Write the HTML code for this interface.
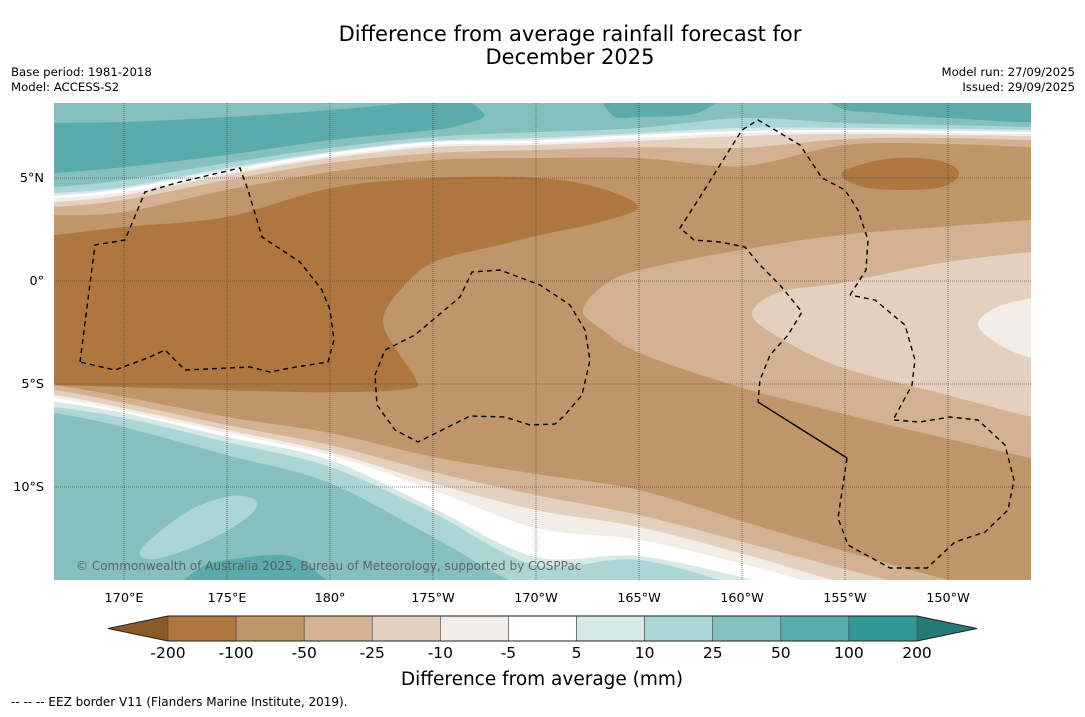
<!DOCTYPE html>
<html><head><meta charset="utf-8"><style>
html,body{margin:0;padding:0;background:#fff;}
body{width:1085px;height:713px;overflow:hidden;font-family:"DejaVu Sans","Liberation Sans",sans-serif;}
svg text{font-family:"DejaVu Sans","Liberation Sans",sans-serif;}
</style></head><body>
<svg id="chart" width="1085" height="713" viewBox="0 0 1085 713" xmlns="http://www.w3.org/2000/svg">
<text x="570" y="41" font-size="21" text-anchor="middle">Difference from average rainfall forecast for</text>
<text x="570" y="64" font-size="21" text-anchor="middle">December 2025</text>
<text x="11" y="76" font-size="11.7">Base period: 1981-2018</text>
<text x="11" y="91" font-size="11.7">Model: ACCESS-S2</text>
<text x="1075" y="76" font-size="11.7" text-anchor="end">Model run: 27/09/2025</text>
<text x="1075" y="91" font-size="11.7" text-anchor="end">Issued: 29/09/2025</text>
<defs><clipPath id="mapclip"><rect x="54" y="103" width="977" height="477"/></clipPath></defs>
<g id="map" clip-path="url(#mapclip)"></g>
<g id="eez" clip-path="url(#mapclip)" fill="none" stroke="#000" stroke-width="1.4">
<path stroke-dasharray="5,4" d="M80,362 L95,245 L125,240 L145,192 L180,182 L240,168 L248,190 L262,237 L300,262 L322,290 L330,310 L334,340 L328,362 L290,368 L270,372 L250,367 L185,370 L165,350 L150,357 L115,370 Z"/>
<path stroke-dasharray="5,4" d="M375,375 L385,350 L415,335 L460,297 L472,272 L500,270 L540,285 L570,305 L585,330 L590,360 L582,395 L565,415 L555,424 L530,425 L505,417 L470,416 L418,442 L395,430 L377,405 Z"/>
<path stroke-dasharray="5,4" d="M850,295 L866,270 L868,240 L858,210 L845,190 L822,178 L800,145 L775,130 L758,120 L742,130 L720,165 L700,197 L680,228 L694,240 L720,242 L745,247 L760,265 L780,285 L802,312 L788,335 L770,355 L760,380 L758,402"/>
<path d="M758,402 L847,458"/>
<path stroke-dasharray="5,4" d="M847,458 L838,518 L848,545 L890,568 L927,568 L955,542 L985,532 L1008,510 L1014,480 L1005,445 L978,420 L950,417 L920,422 L893,420 L912,385 L915,360 L905,325 L875,300 L850,295"/>
</g>
<g id="grid"></g>
<text x="76" y="570" font-size="12" fill="#555" fill-opacity="0.85">© Commonwealth of Australia 2025, Bureau of Meteorology, supported by COSPPac</text>
<g id="ticks"></g>
<g id="cbar"></g>
<text x="542" y="685" font-size="18.5" text-anchor="middle">Difference from average (mm)</text>
<text x="11" y="706" font-size="12">--  --  -- EEZ border V11 (Flanders Marine Institute, 2019).</text>
</svg>
<script>
// ---- data (lon in degrees east 0-360, lat in degrees) ----
const northLons = [166.6,170,175,180,185,190,195,200,205,210,214];
const nm50 = [3.20,3.35,4.42,5.29,5.87,5.97,5.97,5.58,6.60,6.65,6.50];
const nm25 = [3.59,3.93,4.90,5.73,6.21,6.36,6.50,6.46,6.89,6.94,6.84];
const nm10 = [3.83,4.17,5.15,5.97,6.50,6.60,6.80,7.04,7.14,7.09,7.04];
const nm5  = [4.03,4.32,5.24,6.07,6.60,6.70,6.94,7.18,7.23,7.18,7.14];
const n5   = [4.13,4.47,5.39,6.21,6.75,6.84,7.09,7.28,7.33,7.28,7.23];
const n10  = [4.27,4.56,5.49,6.26,6.80,6.94,7.18,7.43,7.43,7.38,7.33];
const n25  = [4.56,4.90,5.73,6.46,6.99,7.23,7.43,7.91,7.67,7.57,7.48];
const southLons = [166.6,170,175,180,185,190,195,200.6,204.8,210,214];
const sm50 = [-5.05,-5.63,-6.60,-7.38,-8.54,-9.37,-10.15,-11.84,-13.06,-14.51,-15.49];
const sm25 = [-5.29,-5.92,-6.99,-7.96,-9.27,-10.39,-11.36,-12.82,-13.93,-15.24,-15.97];
const sm10 = [-5.53,-6.17,-7.23,-8.30,-9.81,-11.12,-11.94,-13.40,-14.61,-15.73,-16.46];
const sm5  = [-5.68,-6.31,-7.38,-8.45,-10.15,-11.99,-12.57,-13.88,-15.0,-15.97,-16.7];
const s5   = [-5.87,-6.41,-7.57,-8.69,-11.02,-13.40,-13.35,-14.51,-15.49,-16.46,-16.94];
const s10  = [-6.12,-6.65,-7.82,-9.03,-11.26,-13.79,-13.54,-15.0,-15.97,-16.94,-17.4];
const s25  = [-6.41,-7.09,-8.45,-9.81,-12.43,-15.0,-15.0,-15.49,-16.46,-17.43,-17.9];
const darkCore1 = [[166.6,2.23],[170,2.62],[175,3.11],[180.05,4.51],[185.05,5.0],[190.05,5.0],[193.11,4.51],[194.95,3.59],[193.11,2.86],[190.19,2.23],[188.25,1.75],[185.05,0.92],[183.4,-0.44],[182.57,-1.89],[183.16,-3.25],[184.13,-4.71],[183.88,-5.24],[180.05,-5.4],[175.05,-5.3],[170,-5.15],[166.6,-5.05],[165,-5.0],[165,2.2]];
const darkCore2 = [[204.83,5.24],[207.0,5.92],[209.44,5.87],[210.55,5.24],[209.44,4.51],[206.18,4.51]];
const tongue25 = [[192.28,-1.41],[193.3,-0.2],[195.05,0.53],[199.9,1.5],[204.76,2.23],[209.61,2.62],[214.03,2.96],[215,3.0],[215,-8.7],[214.03,-8.59],[209.61,-7.57],[204.76,-6.41],[199.9,-5.15],[195.05,-3.5],[193.11,-2.28]];
const tongue10 = [[200.49,-1.55],[201.84,-0.53],[204.76,-0.1],[209.61,0.87],[214.03,1.41],[215,1.45],[215,-6.7],[214.03,-6.6],[209.61,-5.44],[204.76,-4.17],[201.6,-2.62]];
const tongue5 = [[211.46,-2.14],[212.28,-1.31],[214.03,-0.83],[215,-0.8],[215,-3.8],[214.03,-3.74],[212.52,-3.11]];
const wet50West = [[165,7.6],[166.6,7.67],[170,7.72],[175,7.96],[180.05,8.3],[184.37,8.79],[184.4,9.5],[186.8,9.5],[186.8,8.79],[187.48,8.01],[186.31,7.57],[185.05,7.33],[180.05,6.84],[175,6.12],[170,5.53],[166.6,5.24],[165,5.2]];
const wet50Mid = [[193.5,9.5],[198.93,9.5],[197.96,8.2],[195.05,7.96],[193.69,8.06]];
const wet50East = [[204.08,9.5],[215,9.5],[215,7.82],[210.1,7.91],[206.7,8.16],[204.76,8.4]];
const wetSouthBlob = [[170.78,-13.3],[171.26,-12.57],[173.2,-11.12],[175.15,-10.44],[176.36,-10.63],[176.12,-11.36],[174.17,-12.57],[171.75,-13.45]];
const wetSouthPatch = [[173.11,-15.2],[173.69,-13.93],[175.63,-13.45],[178.06,-13.35],[179.51,-14.27],[180.0,-15.2]];
const lonTicks = [170,175,180,185,190,195,200,205,210];
const lonTickLabels = ["170°E","175°E","180°","175°W","170°W","165°W","160°W","155°W","150°W"];
const latTicks = [5,0,-5,-10];
const latTickLabels = ["5°N","0°","5°S","10°S"];
const cbarLevels = ["-200","-100","-50","-25","-10","-5","5","10","25","50","100","200"];
const cbarColors = ["#ad773f","#c0956a","#d3b293","#e3d0bf","#f2ede6","#ffffff","#d5e9e7","#acd6d5","#85c0be","#5aabab","#339996"];
const cbarUnder = "#8c5a2a", cbarOver = "#257a76";

// ---- axis functions ----
const X = lon => 124 + (lon - 170) * 20.6;
const Y = lat => 281 - lat * 20.6;
const NS = "http://www.w3.org/2000/svg";
const map = document.getElementById('map');

function smooth(pts){
  let d = "";
  for (let i = 0; i < pts.length - 1; i++) {
    const p0 = pts[Math.max(i-1,0)], p1 = pts[i], p2 = pts[i+1], p3 = pts[Math.min(i+2,pts.length-1)];
    const c1 = [p1[0]+(p2[0]-p0[0])/6, p1[1]+(p2[1]-p0[1])/6];
    const c2 = [p2[0]-(p3[0]-p1[0])/6, p2[1]-(p3[1]-p1[1])/6];
    d += ` C${c1[0].toFixed(1)},${c1[1].toFixed(1)} ${c2[0].toFixed(1)},${c2[1].toFixed(1)} ${p2[0].toFixed(1)},${p2[1].toFixed(1)}`;
  }
  return d;
}
function closedSmooth(ll){
  const pts = ll.map(p => [X(p[0]), Y(p[1])]);
  const n = pts.length; let d = `M${pts[0][0].toFixed(1)},${pts[0][1].toFixed(1)}`;
  for (let i = 0; i < n; i++) {
    const p0 = pts[(i-1+n)%n], p1 = pts[i], p2 = pts[(i+1)%n], p3 = pts[(i+2)%n];
    const c1 = [p1[0]+(p2[0]-p0[0])/6, p1[1]+(p2[1]-p0[1])/6];
    const c2 = [p2[0]-(p3[0]-p1[0])/6, p2[1]-(p3[1]-p1[1])/6];
    d += ` C${c1[0].toFixed(1)},${c1[1].toFixed(1)} ${c2[0].toFixed(1)},${c2[1].toFixed(1)} ${p2[0].toFixed(1)},${p2[1].toFixed(1)}`;
  }
  return d + " Z";
}
function addPath(d, fill, name){
  const p = document.createElementNS(NS, 'path');
  p.setAttribute('d', d); p.setAttribute('fill', fill);
  
  
  map.appendChild(p);
}
function band(lons, lats, edgeLat, fill, name){
  const pts = lons.map((l,i) => [X(l), Y(lats[i])]);
  pts.unshift([X(lons[0]) - 30, pts[0][1]]);
  pts.push([X(lons[lons.length-1]) + 30, pts[pts.length-1][1]]);
  const ey = Y(edgeLat);
  let d = `M${pts[0][0]},${ey} L${pts[0][0]},${pts[0][1]}` + smooth(pts) + ` L${pts[pts.length-1][0]},${ey} Z`;
  addPath(d, fill, name);
}
const base = document.createElementNS(NS,'rect');
base.setAttribute('x',54); base.setAttribute('y',103); base.setAttribute('width',977); base.setAttribute('height',477);
base.setAttribute('fill','#c0956a');


map.appendChild(base);
addPath(closedSmooth(darkCore1), '#ad773f', 'dry-core-west');
addPath(closedSmooth(darkCore2), '#ad773f', 'dry-core-east');
addPath(closedSmooth(tongue25), '#d3b293', 'tongue-minus25-minus50');
addPath(closedSmooth(tongue10), '#e3d0bf', 'tongue-minus10-minus25');
addPath(closedSmooth(tongue5), '#f2ede6', 'tongue-minus5-minus10');
band(northLons, nm50, 10, '#d3b293', 'north-band-minus25');
band(northLons, nm25, 10, '#e3d0bf', 'north-band-minus10');
band(northLons, nm10, 10, '#f2ede6', 'north-band-minus5');
band(northLons, nm5, 10, '#ffffff', 'north-band-neutral');
band(northLons, n5, 10, '#d5e9e7', 'north-band-plus5');
band(northLons, n10, 10, '#acd6d5', 'north-band-plus10');
band(northLons, n25, 10, '#85c0be', 'north-band-plus25');
addPath(closedSmooth(wet50West), '#5aabab', 'wet-region-west');
addPath(closedSmooth(wet50Mid), '#5aabab', 'wet-region-mid');
addPath(closedSmooth(wet50East), '#5aabab', 'wet-region-east');
band(southLons, sm50, -20, '#d3b293', 'south-band-minus25');
band(southLons, sm25, -20, '#e3d0bf', 'south-band-minus10');
band(southLons, sm10, -20, '#f2ede6', 'south-band-minus5');
band(southLons, sm5, -20, '#ffffff', 'south-band-neutral');
band(southLons, s5, -20, '#d5e9e7', 'south-band-plus5');
band(southLons, s10, -20, '#acd6d5', 'south-band-plus10');
band(southLons, s25, -20, '#85c0be', 'south-band-plus25');
addPath(closedSmooth(wetSouthBlob), '#acd6d5', 'south-light-blob');
addPath(closedSmooth(wetSouthPatch), '#5aabab', 'south-wet-patch');

const grid = document.getElementById('grid'), ticks = document.getElementById('ticks');
lonTicks.forEach((l,i) => {
  const ln = document.createElementNS(NS,'line');
  ln.setAttribute('x1',X(l)); ln.setAttribute('x2',X(l)); ln.setAttribute('y1',103); ln.setAttribute('y2',580);
  ln.setAttribute('stroke','#333'); ln.setAttribute('stroke-width','0.6'); ln.setAttribute('stroke-dasharray','1,1');
  
  
  grid.appendChild(ln);
  const t = document.createElementNS(NS,'text');
  t.setAttribute('x',X(l)); t.setAttribute('y',602); t.setAttribute('font-size','12.8'); t.setAttribute('text-anchor','middle');
  t.textContent = lonTickLabels[i];
  
  
  ticks.appendChild(t);
});
latTicks.forEach((l,i) => {
  const ln = document.createElementNS(NS,'line');
  ln.setAttribute('x1',54); ln.setAttribute('x2',1031); ln.setAttribute('y1',Y(l)); ln.setAttribute('y2',Y(l));
  ln.setAttribute('stroke','#333'); ln.setAttribute('stroke-width','0.6'); ln.setAttribute('stroke-dasharray','1,1');
  
  
  grid.appendChild(ln);
  const t = document.createElementNS(NS,'text');
  t.setAttribute('x',44); t.setAttribute('y',Y(l)+4); t.setAttribute('font-size','12.8'); t.setAttribute('text-anchor','end');
  t.textContent = latTickLabels[i];
  
  
  ticks.appendChild(t);
});

const cb = document.getElementById('cbar');
const cx0 = 168, cx1 = 917, cy0 = 616, cy1 = 641, bw = (cx1-cx0)/cbarColors.length;
function poly(pts, fill, name){
  const p = document.createElementNS(NS,'polygon');
  p.setAttribute('points', pts); p.setAttribute('fill', fill);
  
  
  cb.appendChild(p);
}
poly(`${cx0},${cy0} 108,${(cy0+cy1)/2} ${cx0},${cy1}`, cbarUnder, 'colorbar-under-arrow');
poly(`${cx1},${cy0} 977,${(cy0+cy1)/2} ${cx1},${cy1}`, cbarOver, 'colorbar-over-arrow');
cbarColors.forEach((c,i) => {
  const r = document.createElementNS(NS,'rect');
  r.setAttribute('x', cx0 + i*bw); r.setAttribute('y', cy0); r.setAttribute('width', bw); r.setAttribute('height', cy1-cy0);
  r.setAttribute('fill', c); r.setAttribute('stroke', '#444'); r.setAttribute('stroke-width', '0.6');
  
  
  cb.appendChild(r);
});
const outline = document.createElementNS(NS,'polygon');
outline.setAttribute('points', `108,${(cy0+cy1)/2} ${cx0},${cy0} ${cx1},${cy0} 977,${(cy0+cy1)/2} ${cx1},${cy1} ${cx0},${cy1}`);
outline.setAttribute('fill','none'); outline.setAttribute('stroke','#222'); outline.setAttribute('stroke-width','1');


cb.appendChild(outline);
cbarLevels.forEach((lv,i) => {
  const t = document.createElementNS(NS,'text');
  t.setAttribute('x', cx0 + i*bw); t.setAttribute('y', 658); t.setAttribute('font-size','15.5'); t.setAttribute('text-anchor','middle');
  t.textContent = lv;
  
  
  cb.appendChild(t);
});
</script>
</body></html>
